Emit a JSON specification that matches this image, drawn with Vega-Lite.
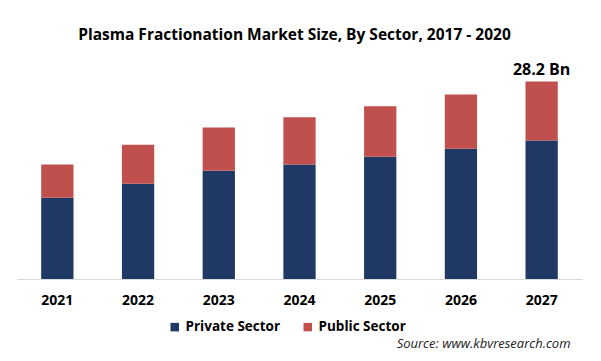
{
  "$schema": "https://vega.github.io/schema/vega-lite/v6.json",
  "width": 565,
  "height": 210,
  "autosize": {"type": "none"},
  "padding": {"left": 17, "top": 69, "right": 19, "bottom": 82},
  "background": "white",
  "config": {
    "font": "Open Sans",
    "view": {"stroke": null}
  },
  "title": {
    "text": "Plasma Fractionation Market Size, By Sector, 2017 - 2020",
    "font": "Open Sans",
    "fontSize": 15.5,
    "fontWeight": "bold",
    "color": "#000000",
    "anchor": "middle",
    "frame": "group",
    "baseline": "alphabetic",
    "offset": 6,
    "dx": -5
  },
  "data": {
    "values": [
      {"year": "2021", "sector": "Private Sector", "value": 11.62},
      {"year": "2021", "sector": "Public Sector", "value": 4.72},
      {"year": "2022", "sector": "Private Sector", "value": 13.62},
      {"year": "2022", "sector": "Public Sector", "value": 5.57},
      {"year": "2023", "sector": "Private Sector", "value": 15.48},
      {"year": "2023", "sector": "Public Sector", "value": 6.15},
      {"year": "2024", "sector": "Private Sector", "value": 16.34},
      {"year": "2024", "sector": "Public Sector", "value": 6.76},
      {"year": "2025", "sector": "Private Sector", "value": 17.48},
      {"year": "2025", "sector": "Public Sector", "value": 7.19},
      {"year": "2026", "sector": "Private Sector", "value": 18.62},
      {"year": "2026", "sector": "Public Sector", "value": 7.72},
      {"year": "2027", "sector": "Private Sector", "value": 19.77},
      {"year": "2027", "sector": "Public Sector", "value": 8.43}
    ]
  },
  "encoding": {
    "x": {
      "field": "year",
      "type": "nominal",
      "scale": {"paddingInner": 0.6, "paddingOuter": 0.3},
      "axis": {
        "title": "Source: www.kbvresearch.com",
        "titleFont": "Open Sans",
        "titleFontStyle": "italic",
        "titleFontWeight": "normal",
        "titleFontSize": 13,
        "titleColor": "#222222",
        "titleAlign": "right",
        "titleBaseline": "alphabetic",
        "titleAnchor": null,
        "titleX": 553,
        "titleY": 68,
        "labelAngle": 0,
        "labelFont": "Open Sans",
        "labelFontSize": 14,
        "labelFontWeight": "bold",
        "labelColor": "#000000",
        "labelPadding": 14,
        "ticks": false,
        "domainColor": "#d9d9d9",
        "domainWidth": 1,
        "grid": false
      }
    }
  },
  "layer": [
    {
      "mark": {"type": "bar"},
      "encoding": {
        "y": {
          "field": "value",
          "type": "quantitative",
          "stack": "zero",
          "scale": {"domain": [0, 30], "nice": false},
          "axis": null
        },
        "order": {"field": "sector", "type": "nominal", "sort": "ascending"},
        "color": {
          "field": "sector",
          "type": "nominal",
          "scale": {
            "domain": ["Private Sector", "Public Sector"],
            "range": ["#1F3864", "#C0504D"]
          },
          "legend": {
            "title": null,
            "orient": "none",
            "direction": "horizontal",
            "legendX": 151,
            "legendY": 251,
            "padding": 0,
            "symbolType": "square",
            "symbolSize": 72,
            "symbolStrokeWidth": 0,
            "labelFont": "Open Sans",
            "labelFontSize": 13.5,
            "labelFontWeight": "bold",
            "labelColor": "#000000",
            "labelOffset": 4,
            "columnPadding": 20
          }
        }
      }
    },
    {
      "transform": [
        {"filter": "datum.year == '2027'"},
        {"aggregate": [{"op": "sum", "field": "value", "as": "total"}], "groupby": ["year"]}
      ],
      "mark": {
        "type": "text",
        "font": "Open Sans",
        "fontSize": 16,
        "fontWeight": "bold",
        "color": "#000000",
        "baseline": "alphabetic",
        "dy": -7
      },
      "encoding": {
        "y": {"field": "total", "type": "quantitative"},
        "text": {"value": "28.2 Bn"}
      }
    }
  ]
}
